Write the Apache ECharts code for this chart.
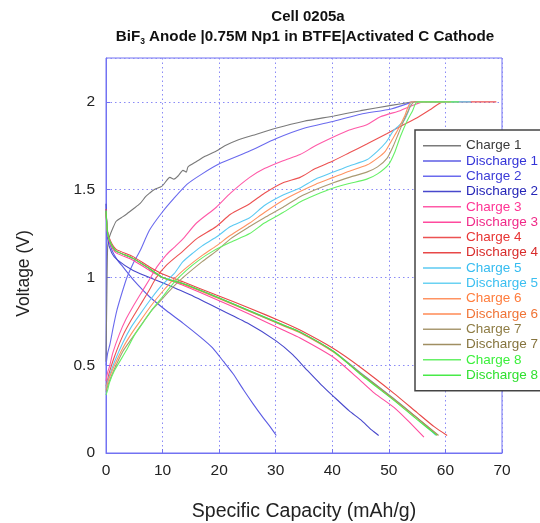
<!DOCTYPE html>
<html><head><meta charset="utf-8">
<script src="https://cdn.jsdelivr.net/npm/echarts@6/dist/echarts.min.js"></script>
<style>html,body{margin:0;padding:0;background:#fff}#c{width:540px;height:523px}</style>
</head><body><div id="c"></div>
<script>
// ---- data: [capacity (mAh/g), voltage (V)] ----
const charge1 = [[0,0.52],[0.15,0.9],[0.3,1.18],[0.6,1.23],[1.2,1.28],[1.8,1.32],[2.7,1.34],[3.6,1.36],[4.8,1.39],[6,1.42],[7,1.46],[7.7,1.48],[8.5,1.5],[9.9,1.52],[11.3,1.57],[12,1.56],[12.8,1.58],[13.6,1.61],[14.2,1.6],[14.5,1.63],[16,1.66],[17.5,1.69],[19.5,1.72],[21,1.75],[23.1,1.78],[26,1.81],[30,1.85],[35,1.89],[40.3,1.92],[45,1.95],[50.4,1.98],[54.2,2.0]];
const discharge1 = [[0,1.38],[0.3,1.25],[1,1.16],[2,1.1],[3,1.06],[5,0.98],[7.7,0.89],[10.7,0.81],[13.6,0.74],[16.7,0.66],[18.8,0.6],[20.8,0.52],[22.5,0.45],[24.3,0.36],[26,0.28],[27.8,0.2],[29,0.15],[30.1,0.1]];
const charge2 = [[0,0.5],[0.3,0.57],[0.7,0.62],[1.3,0.72],[1.9,0.81],[2.8,0.91],[3.7,1.0],[4.8,1.08],[6,1.15],[7.7,1.27],[9.9,1.37],[12,1.45],[14.3,1.53],[17,1.59],[20.2,1.65],[25.4,1.72],[30,1.79],[35,1.85],[40.3,1.89],[45,1.93],[50.4,1.96],[54.2,2.0]];
const discharge2 = [[0,1.42],[0.3,1.22],[1,1.14],[2,1.1],[4.8,1.04],[10,0.97],[15,0.9],[20,0.82],[25,0.74],[30,0.64],[33,0.56],[35.6,0.47],[38,0.39],[40.3,0.32],[43,0.24],[45,0.19],[47,0.13],[48.2,0.1]];
const charge3 = [[0,0.41],[0.3,0.46],[0.6,0.49],[1.2,0.57],[2.4,0.68],[3.5,0.76],[4.7,0.83],[6,0.9],[7.7,0.99],[9,1.06],[10.7,1.13],[12,1.17],[13.6,1.22],[16,1.31],[19.5,1.4],[22,1.48],[25.4,1.57],[28,1.62],[31.3,1.665],[34.3,1.7],[37,1.75],[40.2,1.8],[43,1.84],[46.1,1.87],[48.5,1.915],[52,1.95],[56.2,2.0],[58,2.0]];
const discharge3 = [[0,1.36],[0.3,1.24],[0.9,1.18],[1.8,1.14],[4.7,1.1],[7.7,1.04],[10,1.0],[13.6,0.955],[19.5,0.875],[25.4,0.79],[31.3,0.7],[34.3,0.655],[40.2,0.545],[44.9,0.415],[47.5,0.34],[50.9,0.26],[53.5,0.18],[56.2,0.09]];
const charge4 = [[0,0.38],[0.3,0.42],[0.6,0.46],[1.5,0.55],[3,0.67],[4.5,0.76],[6,0.84],[7.5,0.92],[8.9,1.0],[10.7,1.07],[13.6,1.15],[16,1.22],[19.5,1.29],[22,1.36],[25.4,1.42],[28,1.48],[31.3,1.54],[34.3,1.57],[37,1.62],[40.2,1.665],[43,1.71],[46.1,1.76],[49.7,1.82],[52,1.86],[55,1.91],[57.5,1.96],[59.6,2.0],[69,2.0]];
const discharge4 = [[0,1.39],[0.3,1.26],[0.9,1.2],[1.8,1.16],[4.7,1.12],[7.7,1.06],[10,1.02],[13.6,0.975],[19.5,0.9],[25.4,0.825],[31.3,0.745],[34.3,0.7],[40.2,0.595],[44.9,0.49],[50.9,0.34],[55,0.23],[58,0.15],[60.3,0.1]];
const charge5 = [[0,0.37],[0.3,0.41],[0.6,0.44],[1.5,0.52],[3,0.63],[4.5,0.72],[6,0.79],[8,0.88],[10,0.96],[12,1.02],[13.6,1.09],[15.4,1.14],[17,1.18],[19.5,1.23],[22,1.29],[25.4,1.34],[28,1.41],[31.3,1.47],[34.3,1.51],[37,1.56],[40.2,1.6],[43,1.635],[46.1,1.67],[48,1.72],[49.5,1.77],[50.8,1.835],[52.6,1.89],[53.5,1.95],[54,2.0],[64.5,2.0]];
const discharge5 = [[0,1.38],[0.3,1.25],[0.9,1.19],[1.8,1.15],[4.7,1.11],[7.7,1.05],[10,1.0],[13.6,0.965],[19.5,0.89],[25.4,0.81],[31.3,0.73],[34.3,0.69],[40.2,0.58],[44.9,0.46],[50.9,0.31],[55,0.2],[58.3,0.1]];
const charge6 = [[0,0.36],[0.3,0.4],[0.6,0.43],[1.5,0.5],[3,0.6],[4.5,0.68],[6,0.75],[8,0.84],[10,0.92],[12,0.99],[14,1.05],[17.2,1.13],[19.5,1.18],[22,1.24],[25.4,1.31],[28,1.37],[31.3,1.44],[34.3,1.49],[37,1.53],[40.2,1.57],[43,1.605],[46.1,1.64],[48,1.68],[49.4,1.72],[50.5,1.78],[51.5,1.835],[52.8,1.92],[54,2.0],[61,2.0]];
const discharge6 = [[0,1.37],[0.3,1.25],[0.9,1.19],[1.8,1.15],[4.7,1.11],[7.7,1.05],[10,1.0],[13.6,0.962],[19.5,0.886],[25.4,0.806],[31.3,0.725],[34.3,0.685],[40.2,0.575],[44.9,0.455],[50.9,0.305],[55,0.2],[58.6,0.1]];
const charge7 = [[0,0.35],[0.3,0.38],[0.6,0.41],[1.5,0.48],[3,0.58],[4.5,0.65],[6,0.72],[8,0.81],[10,0.88],[12,0.95],[14,1.01],[17,1.09],[19.5,1.15],[22,1.22],[25.4,1.29],[28,1.34],[31.3,1.4],[34.3,1.46],[37,1.5],[40.2,1.54],[43,1.57],[46.1,1.6],[48,1.63],[49.7,1.68],[50.8,1.75],[51.7,1.82],[53,1.92],[54.5,2.0],[60,2.0]];
const discharge7 = [[0,1.38],[0.3,1.25],[0.9,1.19],[1.8,1.15],[4.7,1.11],[7.7,1.05],[10,1.0],[13.6,0.965],[19.5,0.888],[25.4,0.808],[31.3,0.728],[34.3,0.688],[40.2,0.578],[44.9,0.458],[50.9,0.308],[55,0.2],[58.8,0.1]];
const charge8 = [[0,0.33],[0.3,0.36],[0.6,0.4],[1.5,0.47],[3.6,0.585],[5,0.67],[6.5,0.74],[8,0.81],[10,0.89],[12,0.97],[14.2,1.04],[16.5,1.1],[18.9,1.15],[22,1.2],[25.4,1.25],[28,1.31],[31.3,1.37],[34.3,1.43],[37,1.47],[40.2,1.51],[43,1.535],[46.1,1.56],[48,1.59],[50,1.646],[51,1.71],[52,1.8],[53.2,1.89],[54.2,1.95],[55,2.0],[62.4,2.0]];
const discharge8 = [[0,1.38],[0.3,1.25],[0.9,1.19],[1.8,1.15],[4.7,1.11],[7.7,1.05],[10,1.0],[13.6,0.965],[19.5,0.89],[25.4,0.81],[31.3,0.73],[34.3,0.69],[40.2,0.58],[44.9,0.45],[50.9,0.3],[55,0.19],[58.5,0.1]];

const seriesNames = ['Charge 1','Discharge 1','Charge 2','Discharge 2','Charge 3','Discharge 3','Charge 4','Discharge 4','Charge 5','Discharge 5','Charge 6','Discharge 6','Charge 7','Discharge 7','Charge 8','Discharge 8'];
const seriesData = [charge1,discharge1,charge2,discharge2,charge3,discharge3,charge4,discharge4,charge5,discharge5,charge6,discharge6,charge7,discharge7,charge8,discharge8];
const lineColors = ['#7a7a7a','#5c5ce4','#6a6aee','#4848cc','#ff5aa8','#ff4a9e','#ec5252','#e84848','#5ccaf2','#6ad2f2','#ff9362','#ff8a54','#aa9a72','#a08e62','#66f066','#48ea48'];
const textColors = ['#3a3a3a','#3434d8','#3c3cd8','#2626b8','#ff3494','#f02a88','#e83434','#d82c2c','#36bcf0','#3cbff0','#ff7c3c','#f07436','#8e7c44','#86743e','#3cf03c','#30e030'];

const xTicks = {min:0, max:70, interval:10};
const yTicks = {min:0, max:2.25, interval:0.5};

const FONT = 'Liberation Sans, Arial, sans-serif';
const chart = echarts.init(document.getElementById('c'), null, {renderer:'canvas'});
chart.setOption({
  animation:false,
  backgroundColor:'#fff',
  title:[{
    left:308, top:9, textAlign:'center', padding:0,
    text:'Cell 0205a',
    textStyle:{fontFamily:FONT, fontSize:15, fontWeight:'bold', color:'#111'}
  },{
    left:305, top:27, textAlign:'center', padding:0,
    text:'{b|BiF}{s|3}{b| Anode |0.75M Np1 in BTFE|Activated C Cathode}',
    textStyle:{fontFamily:FONT, rich:{
      b:{fontFamily:FONT, fontSize:15.2, fontWeight:'bold', color:'#111', lineHeight:20},
      s:{fontFamily:FONT, fontSize:8.5, fontWeight:'bold', color:'#111', lineHeight:20, padding:[10,0,0,0]}
    }}
  }],
  grid:{left:106, right:38, top:58, bottom:70, show:true, borderColor:'#7272f2', borderWidth:1,
        containLabel:false, outerBoundsMode:'none'},
  legend:{
    show:true, orient:'vertical', left:415, top:130,
    padding:[8,30,8,8], itemGap:0, itemWidth:38, itemHeight:1.5, icon:'rect',
    backgroundColor:'#fff', borderColor:'#444', borderWidth:1.5,
    selectedMode:false,
    textStyle:{fontFamily:FONT, fontSize:13.5, lineHeight:15.3},
    data: seriesNames.map((n,i)=>({name:n, textStyle:{color:textColors[i]}}))
  },
  xAxis:{
    type:'value', min:xTicks.min, max:xTicks.max, interval:xTicks.interval,
    name:'Specific Capacity (mAh/g)', nameLocation:'middle', nameGap:49,
    nameTextStyle:{fontFamily:FONT, fontSize:19.5, color:'#222'},
    axisLine:{show:true, onZero:false, lineStyle:{color:'#7272f2', width:1}},
    axisTick:{show:true, inside:true, length:4, lineStyle:{color:'#7272f2'}},
    axisLabel:{fontFamily:FONT, fontSize:15.5, color:'#222', margin:10},
    splitLine:{show:true, lineStyle:{color:'#8a8af6', width:1, type:[1.5,3]}}
  },
  yAxis:{
    type:'value', min:yTicks.min, max:yTicks.max, interval:yTicks.interval,
    name:'Voltage (V)', nameLocation:'middle', nameGap:73,
    nameTextStyle:{fontFamily:FONT, fontSize:17.5, color:'#222', padding:[0,36,0,0]},
    axisLine:{show:true, onZero:false, lineStyle:{color:'#7272f2', width:1}},
    axisTick:{show:true, inside:true, length:4, lineStyle:{color:'#7272f2'}},
    axisLabel:{fontFamily:FONT, fontSize:15.5, color:'#222', margin:11, showMaxLabel:false,
      formatter:v=> (Math.abs(v-2.25)<1e-9 ? '' : String(v))},
    splitLine:{show:true, lineStyle:{color:'#8a8af6', width:1, type:[1.5,3]}}
  },
  series: seriesNames.map((n,i)=>({
    name:n, type:'line', data:seriesData[i], showSymbol:false, symbol:'none',
    smooth:0.2, lineStyle:{color:lineColors[i], width:1.1}, itemStyle:{color:lineColors[i]},
    emphasis:{disabled:true}, z:2
  }))
});
</script></body></html>
